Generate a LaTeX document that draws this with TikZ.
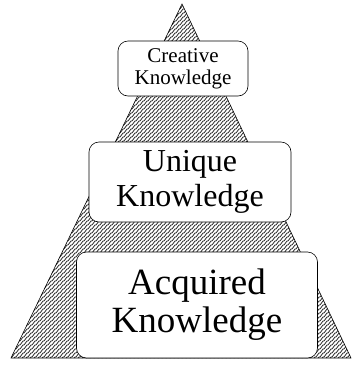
\documentclass[tikz,border=0pt]{standalone}
\usepackage{fontspec}
\setmainfont{Liberation Serif}
\usetikzlibrary{patterns}
\pgfdeclarepatternformonly{zigzag}{\pgfqpoint{-1pt}{-1pt}}{\pgfqpoint{5pt}{5pt}}{\pgfqpoint{4pt}{4pt}}{%
  \pgfsetlinewidth{0.75pt}%
  \pgfpathmoveto{\pgfqpoint{0pt}{0pt}}%
  \pgfpathlineto{\pgfqpoint{3pt}{4pt}}%
  \pgfpathlineto{\pgfqpoint{4pt}{4pt}}%
  \pgfusepath{stroke}}
\tikzset{
  kbox/.style={draw=black, fill=white, rounded corners=10pt, line width=0.6pt, align=center, inner sep=0pt},
}
\begin{document}
\begin{tikzpicture}[x=1pt,y=-1pt]
\useasboundingbox (0,0) rectangle (360,365);
\coordinate (apex) at (182,4);
\coordinate (bl) at (11,358);
\coordinate (br) at (351,358);
\fill[pattern=zigzag, pattern color=black!85] (apex) -- (br) -- (bl) -- cycle;
\draw[line width=0.6pt] (apex) -- (br) -- (bl) -- cycle;
\node[kbox, minimum width=130pt, minimum height=55pt, font=\fontsize{21}{22}\selectfont] (creative) at (183,68.5) {Creative\\Knowledge};
\node[kbox, minimum width=202pt, minimum height=80pt, font=\fontsize{32}{35}\selectfont] (unique) at (190,182) {Unique\\Knowledge};
\node[kbox, minimum width=241pt, minimum height=106pt, font=\fontsize{37}{38}\selectfont] (acquired) at (197,305) {Acquired\\Knowledge};
\end{tikzpicture}
\end{document}
